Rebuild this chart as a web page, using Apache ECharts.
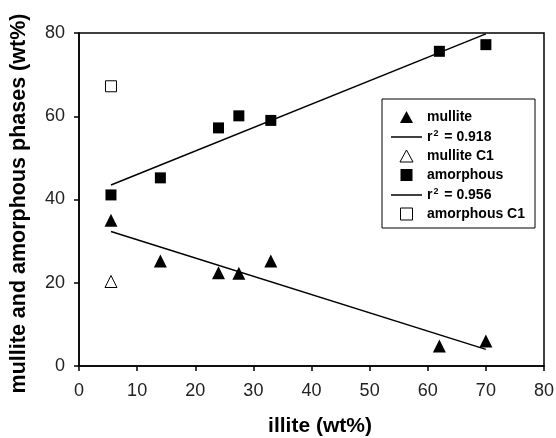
<!DOCTYPE html>
<html>
<head>
<meta charset="utf-8">
<script src="https://cdn.jsdelivr.net/npm/echarts@6/dist/echarts.min.js"></script>
<style>
  html, body { margin: 0; padding: 0; background: #fff; }
  #chart { width: 556px; height: 438px; }
</style>
</head>
<body>
<div id="chart"></div>
<script>
// illite content (wt%) for each sample
let mulliteData = [[5.5, 35], [14, 25.2], [24, 22.4], [27.5, 22.3], [33, 25.2], [62, 4.8], [70, 6]];
let mulliteC1 = [[5.5, 20.3]];
let amorphousData = [[5.5, 41.1], [14, 45.2], [24, 57.2], [27.5, 60.1], [33, 59], [62, 75.6], [70, 77.2]];
let amorphousC1 = [[5.5, 67.2]];
// trend lines, end points
let mulliteFit = [[5.5, 32.3], [70, 4.0]];
let amorphousFit = [[5.5, 43.5], [70, 79.8]];

let legendNames = ['mullite', 'r² = 0.918', 'mullite C1', 'amorphous', 'r² = 0.956', 'amorphous C1'];
let xTicks = {min: 0, max: 80, interval: 10};
let yTicks = {min: 0, max: 80, interval: 20};

let font = 'Liberation Sans, Arial, sans-serif';
let chartDom = document.getElementById('chart');
let myChart = echarts.init(chartDom);
let option;

let solid = {color: '#000', opacity: 1};
let hollow = {color: '#fff', borderColor: '#000', borderWidth: 1, opacity: 1};
// legend icons as paths so they keep their shape inside the 31x12 box
let triIcon = 'path://M6,0 L12,11 L0,11 Z';
let sqIcon = 'path://M0,0 L10,0 L10,10 L0,10 Z';
let lineIcon = 'path://M0,0 L31,0 L31,1.5 L0,1.5 Z';

option = {
  animation: false,
  grid: {
    left: 79, right: 12, top: 33, bottom: 72,
    outerBoundsMode: 'none',
    show: true, borderColor: '#000', borderWidth: 1.5
  },
  legend: {
    orient: 'vertical',
    left: 382, top: 99,
    backgroundColor: '#fff',
    borderColor: '#000', borderWidth: 1,
    padding: [11, 10, 7, 9],
    itemWidth: 31, itemHeight: 12, itemGap: 5,
    symbolKeepAspect: true,
    textStyle: {fontFamily: font, fontWeight: 'bold', fontSize: 14, color: '#000',
      rich: {sup: {fontFamily: font, fontWeight: 'bold', fontSize: 9, color: '#000', verticalAlign: 'top', padding: [0, 2, 7, 1]}}},
    formatter: function (name) {
      return name.replace('²', '{sup|2}');
    },
    data: [
      {name: legendNames[0], icon: triIcon, itemStyle: solid},
      {name: legendNames[1], icon: lineIcon, itemStyle: solid},
      {name: legendNames[2], icon: triIcon, itemStyle: hollow},
      {name: legendNames[3], icon: sqIcon, itemStyle: solid},
      {name: legendNames[4], icon: lineIcon, itemStyle: solid},
      {name: legendNames[5], icon: sqIcon, itemStyle: hollow}
    ]
  },
  xAxis: {
    type: 'value',
    min: xTicks.min, max: xTicks.max, interval: xTicks.interval,
    name: 'illite (wt%)',
    nameLocation: 'middle', nameGap: 50,
    nameTextStyle: {fontFamily: font, fontWeight: 'bold', fontSize: 21, color: '#000', padding: [0, 0, 0, 17]},
    axisLine: {lineStyle: {color: '#000', width: 1.5}},
    axisTick: {length: 5, lineStyle: {color: '#000', width: 1.5}},
    axisLabel: {fontFamily: font, fontSize: 18, color: '#222', margin: 16},
    splitLine: {show: false}
  },
  yAxis: {
    type: 'value',
    min: yTicks.min, max: yTicks.max, interval: yTicks.interval,
    name: 'mullite and amorphous phases (wt%)',
    nameLocation: 'middle', nameGap: 49,
    nameTextStyle: {fontFamily: font, fontWeight: 'bold', fontSize: 21.5, color: '#000', padding: [0, 8, 0, 0]},
    axisLine: {lineStyle: {color: '#000', width: 1.5}},
    axisTick: {length: 5, lineStyle: {color: '#000', width: 1.5}},
    axisLabel: {fontFamily: font, fontSize: 18, color: '#222', margin: 14},
    splitLine: {show: false}
  },
  series: [
    {
      name: legendNames[1], type: 'line', data: mulliteFit, symbol: 'none',
      lineStyle: {color: '#000', width: 1.5}, itemStyle: {color: '#000'}
    },
    {
      name: legendNames[4], type: 'line', data: amorphousFit, symbol: 'none',
      lineStyle: {color: '#000', width: 1.5}, itemStyle: {color: '#000'}
    },
    {
      name: legendNames[0], type: 'scatter', data: mulliteData,
      symbol: 'triangle', symbolSize: 13, itemStyle: solid
    },
    {
      name: legendNames[2], type: 'scatter', data: mulliteC1,
      symbol: 'triangle', symbolSize: 12, itemStyle: hollow
    },
    {
      name: legendNames[3], type: 'scatter', data: amorphousData,
      symbol: 'rect', symbolSize: 11, itemStyle: solid
    },
    {
      name: legendNames[5], type: 'scatter', data: amorphousC1,
      symbol: 'rect', symbolSize: 11, itemStyle: hollow
    }
  ]
};

option && myChart.setOption(option);
</script>
</body>
</html>
